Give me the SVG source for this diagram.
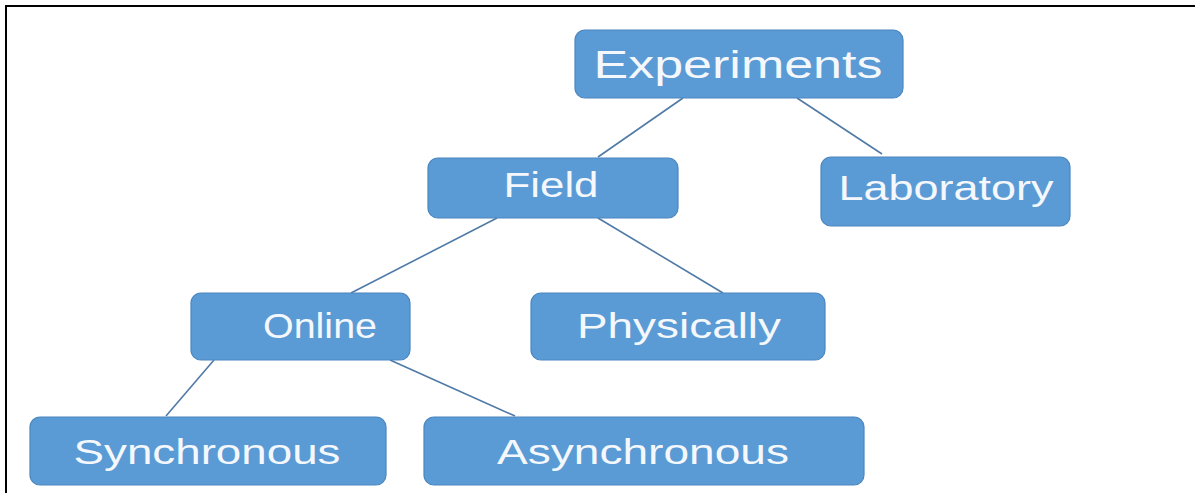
<svg xmlns="http://www.w3.org/2000/svg" width="1195" height="493" viewBox="0 0 1195 493">
  <style>
    .box { fill: #5b9bd5; stroke: #4a86c0; stroke-width: 1.2; }
    .lbl { font-family: "Liberation Sans", Arial, sans-serif; font-size: 35px; fill: #f4f8fc; text-anchor: middle; }
    .link { stroke: #4f7aa6; stroke-width: 1.6; fill: none; }
    .frame { stroke: #000; stroke-width: 2; fill: none; }
  </style>

  <rect x="0" y="0" width="1195" height="493" fill="#ffffff"/>
  <!-- page frame: top and left edges -->
  <path class="frame" d="M6 493 V6 H1195"/>

  <g id="connectors">
    <line class="link" x1="683" y1="98" x2="598" y2="157"/>
    <line class="link" x1="797" y1="98" x2="882" y2="154"/>
    <line class="link" x1="497" y1="218" x2="351" y2="293"/>
    <line class="link" x1="598" y1="218" x2="723" y2="293"/>
    <line class="link" x1="214" y1="360" x2="166" y2="416"/>
    <line class="link" x1="390" y1="360" x2="515" y2="416"/>
  </g>

  <g id="experiments">
    <rect class="box" x="575" y="30" width="328" height="68" rx="10"/>
    <text class="lbl" x="738" y="78" style="font-size:38px" textLength="289" lengthAdjust="spacingAndGlyphs">Experiments</text>
  </g>
  <g id="field">
    <rect class="box" x="428" y="158" width="250" height="60" rx="10"/>
    <text class="lbl" x="551" y="197" textLength="95" lengthAdjust="spacingAndGlyphs">Field</text>
  </g>
  <g id="laboratory">
    <rect class="box" x="821" y="157" width="249" height="69" rx="10"/>
    <text class="lbl" x="946" y="200" textLength="215" lengthAdjust="spacingAndGlyphs">Laboratory</text>
  </g>
  <g id="online">
    <rect class="box" x="191" y="293" width="219" height="67" rx="10"/>
    <text class="lbl" x="320" y="338" textLength="114" lengthAdjust="spacingAndGlyphs">Online</text>
  </g>
  <g id="physically">
    <rect class="box" x="531" y="293" width="294" height="67" rx="10"/>
    <text class="lbl" x="679" y="338" textLength="204" lengthAdjust="spacingAndGlyphs">Physically</text>
  </g>
  <g id="synchronous">
    <rect class="box" x="30" y="417" width="356" height="68" rx="10"/>
    <text class="lbl" x="207" y="464" textLength="267" lengthAdjust="spacingAndGlyphs">Synchronous</text>
  </g>
  <g id="asynchronous">
    <rect class="box" x="424" y="417" width="440" height="68" rx="10"/>
    <text class="lbl" x="643" y="464" textLength="292" lengthAdjust="spacingAndGlyphs">Asynchronous</text>
  </g>
</svg>
